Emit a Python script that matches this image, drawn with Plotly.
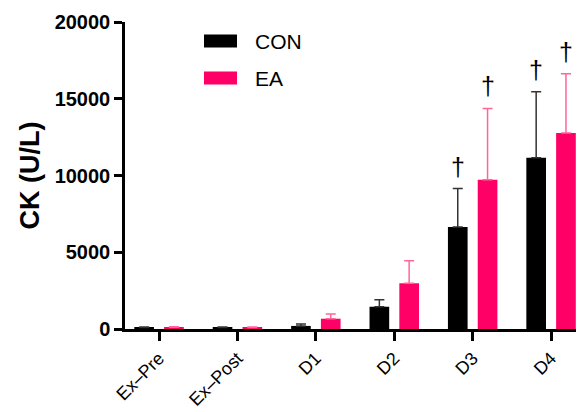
import plotly.graph_objects as go

categories = ["Ex–Pre", "Ex–Post", "D1", "D2", "D3", "D4"]
con_mean = [100, 100, 200, 1450, 6650, 11150]
con_err = [30, 30, 120, 460, 2500, 4300]
ea_mean = [110, 100, 670, 2980, 9720, 12770]
ea_err = [30, 30, 310, 1470, 4650, 3860]
con_mark = ["", "", "", "", "†", "†"]
ea_mark = ["", "", "", "", "†", "†"]
y_ticks = [0, 5000, 10000, 15000, 20000]

BLACK = "#000000"
PINK = "#FF0066"
FONT = "Liberation Sans, Arial, sans-serif"

# browser body margin is 8px, so the figure is laid out in 576x404
W, H = 576, 404
L, T, B = 117, 14, 83
PW, PH = W - L, H - T - B

fig = go.Figure()
fig.add_trace(go.Bar(
    x=categories, y=con_mean, name="CON", marker=dict(color=BLACK, line=dict(width=0)),
    error_y=dict(type="data", array=con_err, arrayminus=[0]*len(con_err), symmetric=False,
                 color="#333333", thickness=1.5, width=5),
    showlegend=False,
))
fig.add_trace(go.Bar(
    x=categories, y=ea_mean, name="EA", marker=dict(color=PINK, line=dict(width=0)),
    error_y=dict(type="data", array=ea_err, arrayminus=[0]*len(ea_err), symmetric=False,
                 color="#FF6699", thickness=1.5, width=5),
    showlegend=False,
))

annotations = []
offset = 0.19
for i, c in enumerate(categories):
    for mark, mean, err, sign in ((con_mark[i], con_mean[i], con_err[i], -1),
                                  (ea_mark[i], ea_mean[i], ea_err[i], 1)):
        if mark:
            annotations.append(dict(
                x=i + sign * offset, y=mean + err, xref="x", yref="y", text=mark,
                showarrow=False, yanchor="bottom", yshift=6,
                font=dict(size=25, color="black", family=FONT),
            ))

# legend (window coords -> paper coords)
def px(xw):
    return (xw - 8 - L) / PW

def py(yw):
    return (H - B - (yw - 8)) / PH

for k, (name, col) in enumerate((("CON", BLACK), ("EA", PINK))):
    yc = 41 + k * 37
    fig.add_shape(type="rect", xref="paper", yref="paper",
                  x0=px(204), x1=px(237), y0=py(yc + 6.5), y1=py(yc - 6.5),
                  fillcolor=col, line=dict(width=0))
    annotations.append(dict(x=px(253), y=py(yc), xref="paper", yref="paper",
                            text=name, showarrow=False, xanchor="left", yanchor="middle",
                            font=dict(size=21, color="black", family=FONT)))

fig.update_layout(
    width=W, height=H,
    margin=dict(l=L, r=0, t=T, b=B, autoexpand=False),
    paper_bgcolor="white", plot_bgcolor="white",
    barmode="group", bargap=0.24, bargroupgap=0.34,
    annotations=annotations,
    font=dict(family=FONT, color="black"),
)
fig.update_xaxes(
    categoryorder="array", categoryarray=categories,
    range=[-0.434, 5.42],
    showline=True, linecolor="black", linewidth=2.5,
    ticks="outside", ticklen=9, tickwidth=2.5, tickcolor="black",
    tickangle=-45, tickfont=dict(size=18, family=FONT, color="black"),
    ticklabelstandoff=0,
    showgrid=False, zeroline=False, automargin=False,
)
fig.update_yaxes(
    range=[0, 20000], tickvals=y_ticks, ticktext=[str(v) for v in y_ticks],
    showline=True, linecolor="black", linewidth=2.5,
    ticks="outside", ticklen=8, tickwidth=2.5, tickcolor="black",
    tickfont=dict(size=20, family=FONT, color="black", weight="bold"),
    title=dict(text="<b>CK (U/L)</b>", font=dict(size=27, family=FONT, color="black"), standoff=8),
    showgrid=False, zeroline=False, automargin=False,
)

fig.write_html("out.html")
